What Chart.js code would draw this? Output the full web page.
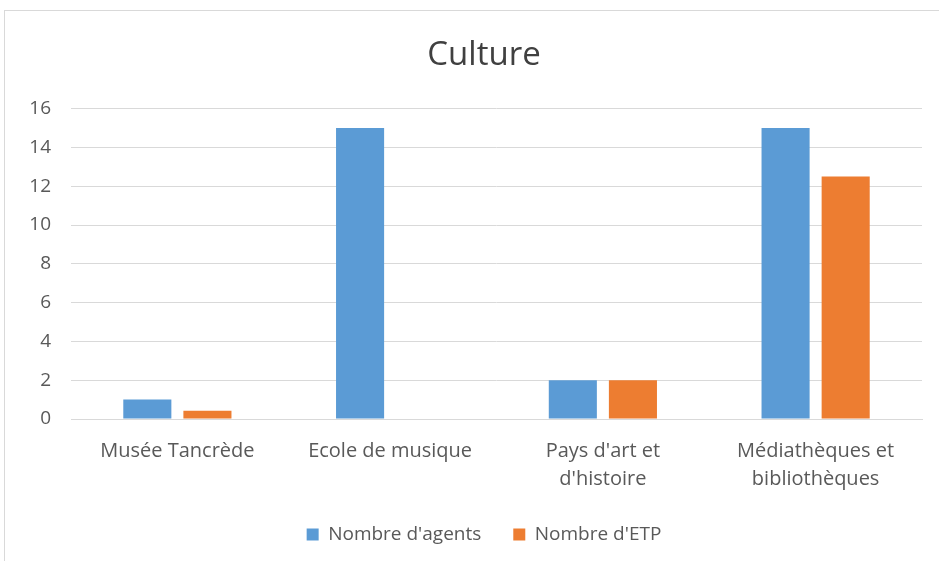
<!DOCTYPE html>
<html>
<head>
<meta charset="utf-8">
<script src="https://cdn.jsdelivr.net/npm/chart.js@4"></script>
<style>
  html, body { margin: 0; padding: 0; background: #fff; overflow: hidden; width: 939px; height: 561px; }
  #frame { position: absolute; left: 4px; top: 10px; width: 980px; height: 580px;
           border-left: 1px solid #d9d9d9; border-top: 1px solid #d9d9d9; }
  #wrap { position: absolute; left: 0; top: 0; width: 958px; height: 550px; }
</style>
</head>
<body>
<div id="frame"><div id="wrap"><canvas id="c"></canvas></div></div>
<script>
const categories = ["Musée Tancrède", "Ecole de musique", ["Pays d'art et", "d'histoire"], ["Médiathèques et", "bibliothèques"]];
const agents = [1, 15, 2, 15];
const etp = [0.42, 0, 2, 12.5];
const yTicks = { min: 0, max: 16, step: 2 };

const FONT = "'Open Sans', 'Noto Sans', sans-serif";
const TEXT = '#595959';

new Chart(document.getElementById('c'), {
  type: 'bar',
  data: {
    labels: categories,
    datasets: [
      { label: "Nombre d'agents", data: agents, backgroundColor: '#5b9bd5', borderWidth: 0 },
      { label: "Nombre d'ETP", data: etp, backgroundColor: '#ed7d31', borderWidth: 0 }
    ]
  },
  options: {
    responsive: true,
    maintainAspectRatio: false,
    animation: false,
    categoryPercentage: 0.565,
    barPercentage: 0.8,
    layout: { padding: { left: 0, right: 0, top: 0, bottom: 7 } },
    plugins: {
      title: {
        display: true, text: 'Culture', color: '#404040',
        font: { family: FONT, size: 33, weight: 'normal' },
        padding: { top: 25, bottom: 33 }
      },
      legend: {
        position: 'bottom',
        labels: {
          color: TEXT, font: { family: FONT, size: 19 },
          boxWidth: 12, boxHeight: 12, padding: 32
        }
      },
      tooltip: { enabled: false }
    },
    scales: {
      x: {
        grid: { display: false, drawTicks: false },
        border: { display: true, color: '#d9d9d9' },
        ticks: { color: TEXT, font: { family: FONT, size: 20, lineHeight: 1.4 }, padding: 18, maxRotation: 0 },
        afterFit(s) { s.height = 74; }
      },
      y: {
        min: yTicks.min, max: yTicks.max,
        grid: { color: '#d9d9d9', drawTicks: false },
        border: { display: false },
        ticks: { stepSize: yTicks.step, color: TEXT, font: { family: FONT, size: 19 }, padding: 20 },
        afterFit(s) { s.width = 66; }
      },
      yRight: {
        position: 'right',
        display: true,
        grid: { display: false, drawTicks: false },
        border: { display: false },
        ticks: { display: false },
        afterFit(s) { s.width = 41; }
      }
    }
  }
});
</script>
</body>
</html>
